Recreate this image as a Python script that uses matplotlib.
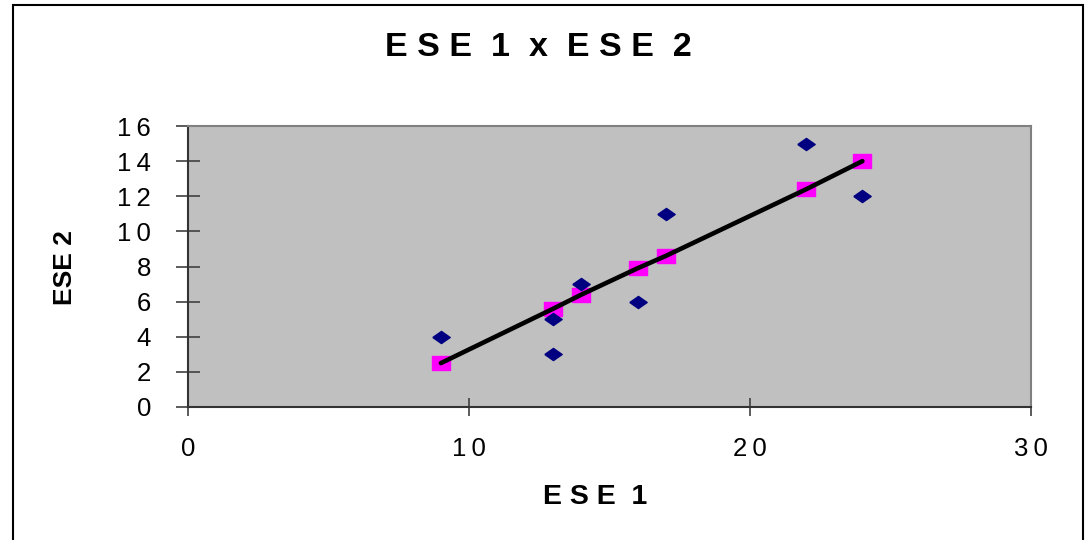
import matplotlib
matplotlib.use("Agg")
import matplotlib.pyplot as plt
from matplotlib.patches import Rectangle

# observed values (ESE 1, ESE 2)
ese1 = [9, 13, 13, 14, 16, 17, 22, 24]
ese2 = [4, 5, 3, 7, 6, 11, 15, 12]

# predicted values on the trend line
pred_x = [9, 13, 14, 16, 17, 22, 24]
pred_y = [2.5, 5.6, 6.4, 7.9, 8.6, 12.4, 14.0]

xticks = [0, 10, 20, 30]
yticks = [0, 2, 4, 6, 8, 10, 12, 14, 16]


def spaced(v):
    return "\u2009".join(str(v))


plt.rcParams['font.family'] = ['Liberation Sans', 'DejaVu Sans']

fig = plt.figure(figsize=(10.85, 5.4), dpi=100)
fig.patches.append(Rectangle((13 / 1085, -0.01), 1070 / 1085, 1 - 5 / 540 + 0.01,
                             transform=fig.transFigure, fill=False,
                             edgecolor='black', linewidth=1.5))

ax = fig.add_axes([188 / 1085, 1 - 407 / 540, (1031 - 188) / 1085, (407 - 126) / 540])
ax.set_facecolor('#C0C0C0')

diamond = [(-1, 0), (0, 0.7), (1, 0), (0, -0.7), (-1, 0)]
rect = [(-1, -0.75), (1, -0.75), (1, 0.75), (-1, 0.75), (-1, -0.75)]

ax.plot(pred_x, pred_y, color='black', linewidth=3.3, solid_capstyle='round', zorder=3)
ax.plot(pred_x, pred_y, linestyle='none', marker=rect, markersize=12.5,
        markerfacecolor='#FF00FF', markeredgecolor='#FF00FF', zorder=2)
ax.plot(ese1, ese2, linestyle='none', marker=diamond, markersize=12.5,
        markerfacecolor='#000080', markeredgecolor='#000080', zorder=4)

ax.set_xlim(0, 30)
ax.set_ylim(0, 16)
ax.set_xticks(xticks)
ax.set_xticklabels([spaced(t) for t in xticks])
ax.set_yticks(yticks)
ax.set_yticklabels([spaced(t) for t in yticks])

ax.tick_params(axis='y', direction='inout', length=17, width=1.2, color='#404040',
               labelsize=18.5, pad=18)
ax.tick_params(axis='x', direction='inout', length=13, width=1.2, color='#404040',
               labelsize=18.5, pad=15)

for side in ['left', 'bottom']:
    ax.spines[side].set_color('#333333')
    ax.spines[side].set_linewidth(1.5)
for side in ['top', 'right']:
    ax.spines[side].set_color('#808080')
    ax.spines[side].set_linewidth(1.5)

fig.text(538 / 1085, 1 - 47 / 540, "E S E  1  x  E S E  2", ha='center', va='center',
         fontsize=24.5, fontweight='bold')
fig.text(595 / 1085, 1 - 497 / 540, "E S E  1", ha='center', va='center',
         fontsize=20.5, fontweight='bold')
fig.text(65 / 1085, 1 - 268 / 540, "ESE 2", ha='center', va='center', rotation=90,
         fontsize=19, fontweight='bold')

fig.savefig("out.png", dpi=100)
